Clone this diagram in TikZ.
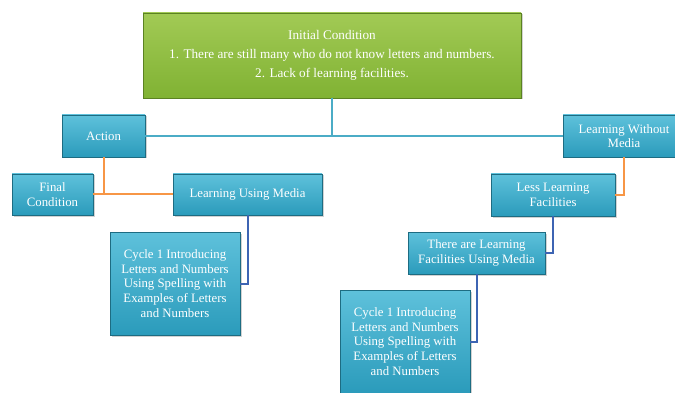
\documentclass[tikz,border=0pt]{standalone}
\usepackage{fontspec}
\setmainfont{Liberation Serif}
\usetikzlibrary{shadows}
\definecolor{TealTop}{HTML}{5EC1DB}
\definecolor{TealFill}{HTML}{2B9BBB}
\definecolor{TealEdge}{HTML}{1D6C82}
\definecolor{LeafTop}{HTML}{A2CA55}
\definecolor{LeafFill}{HTML}{80B233}
\definecolor{LeafEdge}{HTML}{5B8222}
\definecolor{TrunkLine}{HTML}{4BACC6}
\definecolor{SideLine}{HTML}{F79646}
\definecolor{SubLine}{HTML}{3D64B3}
\tikzset{
  cond box/.style={draw=LeafEdge, top color=LeafTop, bottom color=LeafFill, line width=0.8pt,
    drop shadow={opacity=0.35, shadow xshift=1.5pt, shadow yshift=-1.5pt}, text=white,
    font=\fontsize{13.2}{19}\selectfont, align=center, inner sep=0pt},
  flow box/.style={draw=TealEdge, top color=TealTop, bottom color=TealFill, line width=0.8pt,
    drop shadow={opacity=0.35, shadow xshift=1.5pt, shadow yshift=-1.5pt}, text=white,
    font=\fontsize{12.8}{14.6}\selectfont, align=center, inner sep=0pt},
  trunk link/.style={draw=TrunkLine, line width=2pt},
  side link/.style={draw=SideLine, line width=2pt},
  sub link/.style={draw=SubLine, line width=2pt},
}

\begin{document}
\begin{tikzpicture}[x=1pt, y=-1pt]
  \useasboundingbox[fill=white] (0,0) rectangle (675,393);

  % Starting situation at the top.
  \node[cond box, minimum width=378pt, minimum height=85pt] (init) at (332,55.5)
    {Initial Condition\\1. There are still many who do not know letters and numbers.\\2. Lack of learning facilities.};

  % Left branch.
  \node[flow box, minimum width=83pt, minimum height=42pt] (action) at (103.5,136) {Action};
  \node[flow box, minimum width=81pt, minimum height=41pt] (final) at (52.5,194.5) {Final\\Condition};
  \node[flow box, minimum width=149pt, minimum height=41pt] (lum) at (247.5,194.5) {Learning Using Media};
  \node[flow box, minimum width=130pt, minimum height=103pt] (cycleL) at (175,283.5)
    {Cycle 1 Introducing\\Letters and Numbers\\Using Spelling with\\Examples of Letters\\and Numbers};

  % Right branch.
  \node[flow box, minimum width=122pt, minimum height=42pt] (lwm) at (624,136) {Learning Without\\Media};
  \node[flow box, minimum width=124pt, minimum height=42pt] (llf) at (553,195) {Less Learning\\Facilities};
  \node[flow box, minimum width=137pt, minimum height=42pt] (there) at (476.5,253)
    {There are Learning\\Facilities Using Media};
  \node[flow box, minimum width=130pt, minimum height=103pt] (cycleR) at (405,341.5)
    {Cycle 1 Introducing\\Letters and Numbers\\Using Spelling with\\Examples of Letters\\and Numbers};

  % Connectors.
  \draw[trunk link] (action.east) -- (lwm.west);
  \draw[trunk link] (init.south) -- (init.south |- action.east);

  \draw[side link] (final.east) -- (lum.west);
  \draw[side link] (action.south) -- (action.south |- final.east);
  \draw[side link] (lwm.south) |- (llf.east);

  \draw[sub link] (lum.south) |- (cycleL.east);
  \draw[sub link] (llf.south) |- (there.east);
  \draw[sub link] (there.south) |- (cycleR.east);
\end{tikzpicture}
\end{document}
